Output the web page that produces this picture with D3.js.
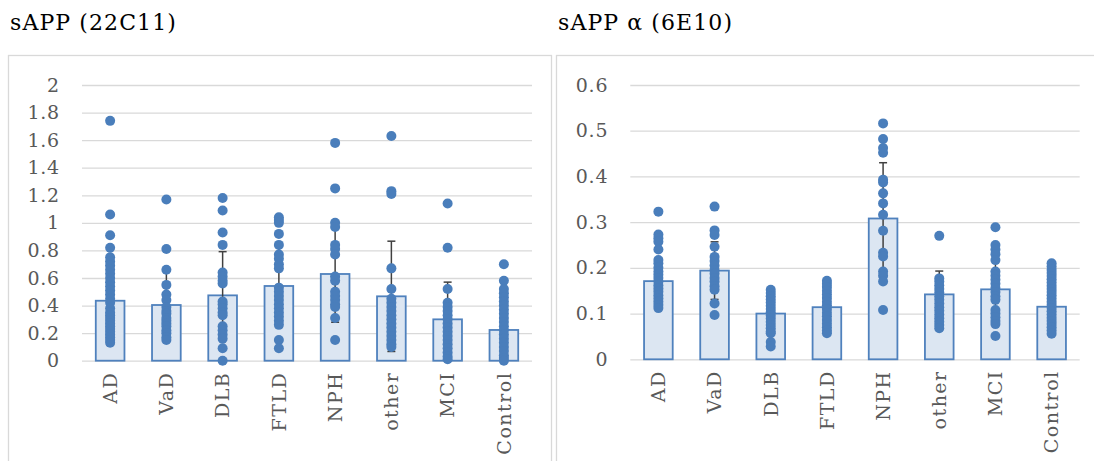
<!DOCTYPE html>
<html>
<head>
<meta charset="utf-8">
<script src="https://cdn.jsdelivr.net/npm/d3@7"></script>
<style>
    body { margin: 0; background: #fff; }
    svg { display: block; }
</style>
</head>
<body>
<svg id="chart"></svg>
<script>
const categories = ['AD', 'VaD', 'DLB', 'FTLD', 'NPH', 'other', 'MCI', 'Control'];

// sAPP (22C11)
const sapp_mean = [0.435, 0.404, 0.474, 0.542, 0.629, 0.467, 0.300, 0.223];
const sapp_sd   = [0.320, 0.250, 0.317, 0.297, 0.350, 0.400, 0.270, 0.150];
const sapp_points = [
    [1.74, 1.06, 0.91, 0.82, 0.75, 0.72, 0.69, 0.66, 0.63, 0.60, 0.57, 0.54, 0.51, 0.48, 0.45, 0.42, 0.38, 0.35, 0.33, 0.31, 0.29, 0.27, 0.25, 0.23, 0.21, 0.19, 0.17, 0.15, 0.13],
    [1.17, 0.81, 0.66, 0.55, 0.48, 0.44, 0.39, 0.36, 0.34, 0.31, 0.29, 0.27, 0.25, 0.22, 0.20, 0.17, 0.15],
    [1.18, 1.09, 0.93, 0.84, 0.64, 0.61, 0.58, 0.56, 0.43, 0.41, 0.38, 0.35, 0.33, 0.25, 0.22, 0.19, 0.16, 0.09, 0.00],
    [1.04, 1.02, 1.00, 0.92, 0.84, 0.77, 0.74, 0.70, 0.67, 0.53, 0.50, 0.47, 0.44, 0.41, 0.38, 0.35, 0.32, 0.29, 0.26, 0.15, 0.09],
    [1.58, 1.25, 1.00, 0.97, 0.84, 0.81, 0.77, 0.61, 0.58, 0.50, 0.47, 0.44, 0.41, 0.39, 0.31, 0.15],
    [1.63, 1.23, 1.21, 0.67, 0.52, 0.45, 0.42, 0.39, 0.36, 0.33, 0.30, 0.27, 0.24, 0.21, 0.18, 0.15, 0.12, 0.10],
    [1.14, 0.82, 0.52, 0.42, 0.39, 0.36, 0.33, 0.30, 0.27, 0.24, 0.21, 0.18, 0.15, 0.12, 0.09, 0.06, 0.03, 0.01],
    [0.70, 0.58, 0.52, 0.49, 0.46, 0.43, 0.40, 0.37, 0.34, 0.31, 0.28, 0.25, 0.22, 0.19, 0.16, 0.13, 0.10, 0.07, 0.04, 0.02, 0.00]
];
const sapp_ticks = [0, 0.2, 0.4, 0.6, 0.8, 1, 1.2, 1.4, 1.6, 1.8, 2];

// sAPP alpha (6E10)
const alpha_mean = [0.171, 0.194, 0.100, 0.114, 0.308, 0.142, 0.153, 0.115];
const alpha_sd   = [0.050, 0.063, 0.037, 0.030, 0.122, 0.051, 0.063, 0.040];
const alpha_points = [
    [0.323, 0.273, 0.265, 0.257, 0.240, 0.217, 0.210, 0.200, 0.192, 0.185, 0.178, 0.170, 0.162, 0.155, 0.148, 0.140, 0.133, 0.126, 0.119, 0.112],
    [0.334, 0.282, 0.272, 0.246, 0.224, 0.215, 0.205, 0.195, 0.187, 0.178, 0.170, 0.160, 0.152, 0.122, 0.097],
    [0.152, 0.145, 0.138, 0.131, 0.124, 0.117, 0.110, 0.103, 0.096, 0.089, 0.082, 0.075, 0.068, 0.061, 0.057, 0.038, 0.028],
    [0.172, 0.165, 0.158, 0.150, 0.142, 0.134, 0.126, 0.118, 0.110, 0.102, 0.094, 0.086, 0.078, 0.070, 0.063, 0.057],
    [0.516, 0.482, 0.462, 0.452, 0.393, 0.387, 0.363, 0.341, 0.316, 0.281, 0.233, 0.225, 0.192, 0.183, 0.170, 0.108],
    [0.270, 0.177, 0.170, 0.162, 0.154, 0.146, 0.138, 0.130, 0.122, 0.114, 0.106, 0.098, 0.090, 0.082, 0.075, 0.068],
    [0.289, 0.250, 0.240, 0.230, 0.217, 0.192, 0.183, 0.174, 0.165, 0.156, 0.147, 0.138, 0.130, 0.108, 0.100, 0.092, 0.084, 0.077, 0.051],
    [0.210, 0.203, 0.196, 0.189, 0.182, 0.175, 0.168, 0.161, 0.154, 0.147, 0.140, 0.133, 0.126, 0.119, 0.112, 0.105, 0.098, 0.091, 0.084, 0.077, 0.070, 0.063, 0.056]
];
const alpha_ticks = [0, 0.1, 0.2, 0.3, 0.4, 0.5, 0.6];

const FONT = '"DejaVu Serif", serif';

class DotBarChart{
    constructor(config){
        this.config = {
            svg: config.svg,
            x: config.x,           // left of frame
            title: config.title,
            frameWidth: config.frameWidth,
            plotLeft: config.plotLeft,
            plotRight: config.plotRight,
            plotTop: config.plotTop,
            plotBottom: config.plotBottom,
            ticks: config.ticks
        };
        this.mean = config.mean;
        this.sd = config.sd;
        this.points = config.points;
        this.init();
    }

    init(){
        const c = this.config;
        const g = c.svg.append('g');

        g.append('rect')
            .attr('x', c.x + 0.5)
            .attr('y', 55.5)
            .attr('width', c.frameWidth)
            .attr('height', 440)
            .attr('fill', 'none')
            .attr('stroke', '#d9d9d9')
            .attr('stroke-width', 1.3);

        g.append('text')
            .attr('x', c.x + 2)
            .attr('y', 30)
            .attr('font-family', FONT)
            .attr('font-size', 22)
            .attr('letter-spacing', 1.1)
            .attr('fill', '#000')
            .text(c.title);

        this.xscale = d3.scaleBand()
            .domain(categories)
            .range([c.plotLeft, c.plotRight])
            .paddingInner(0.49)
            .paddingOuter(0.245);

        this.yscale = d3.scaleLinear()
            .domain([0, d3.max(c.ticks)])
            .range([c.plotBottom, c.plotTop]);

        const yaxis = d3.axisLeft(this.yscale)
            .tickValues(c.ticks)
            .tickSize(-(c.plotRight - c.plotLeft))
            .tickPadding(22)
            .tickFormat(d => String(+d.toFixed(1)));

        const yg = g.append('g')
            .attr('transform', `translate(${c.plotLeft},0)`)
            .call(yaxis);
        yg.select('.domain').remove();
        yg.selectAll('line').attr('stroke', '#d9d9d9').attr('stroke-width', 1.3);
        yg.selectAll('text')
            .attr('font-family', FONT)
            .attr('font-size', 19)
            .attr('letter-spacing', 0.8)
            .attr('fill', '#595959');

        const xaxis = d3.axisBottom(this.xscale).tickSize(0);
        const xg = g.append('g')
            .attr('transform', `translate(0,${c.plotBottom})`)
            .call(xaxis);
        xg.select('.domain').remove();
        xg.selectAll('text')
            .attr('transform', 'rotate(-90)')
            .attr('x', -11)
            .attr('y', 0)
            .attr('dy', '0.36em')
            .attr('text-anchor', 'end')
            .attr('font-family', FONT)
            .attr('font-size', 19)
            .attr('letter-spacing', 1.5)
            .attr('fill', '#595959');

        this.chart = g;
        this.render();
    }

    render(){
        const xs = this.xscale, ys = this.yscale;
        const rows = categories.map((k, i) => ({key: k, mean: this.mean[i], sd: this.sd[i], pts: this.points[i]}));

        this.chart.append('g').selectAll('rect')
            .data(rows)
            .join('rect')
            .attr('x', d => xs(d.key))
            .attr('y', d => ys(d.mean))
            .attr('width', xs.bandwidth())
            .attr('height', d => ys(0) - ys(d.mean))
            .attr('fill', '#dce6f2')
            .attr('stroke', '#4f81bd')
            .attr('stroke-width', 1.8);

        const eb = this.chart.append('g')
            .attr('stroke', '#404040')
            .attr('stroke-width', 1.5);
        rows.forEach(d => {
            const cx = xs(d.key) + xs.bandwidth() / 2;
            const hi = ys(d.mean + d.sd), lo = ys(Math.max(0, d.mean - d.sd));
            eb.append('line').attr('x1', cx).attr('x2', cx).attr('y1', hi).attr('y2', lo);
            eb.append('line').attr('x1', cx - 4).attr('x2', cx + 4).attr('y1', hi).attr('y2', hi);
            eb.append('line').attr('x1', cx - 4).attr('x2', cx + 4).attr('y1', lo).attr('y2', lo);
        });

        const dots = rows.flatMap(d => d.pts.map(v => ({key: d.key, v: v})));
        this.chart.append('g').selectAll('circle')
            .data(dots)
            .join('circle')
            .attr('cx', d => xs(d.key) + xs.bandwidth() / 2)
            .attr('cy', d => ys(d.v))
            .attr('r', 5)
            .attr('fill', '#4a7ebb');
    }
}

const svg = d3.select('#chart')
    .attr('width', 1094)
    .attr('height', 461);

new DotBarChart({
    svg: svg, x: 8, title: 'sAPP (22C11)', frameWidth: 543,
    plotLeft: 82, plotRight: 532, plotTop: 85, plotBottom: 360.7,
    ticks: sapp_ticks, mean: sapp_mean, sd: sapp_sd, points: sapp_points
});

new DotBarChart({
    svg: svg, x: 556, title: 'sAPP α (6E10)', frameWidth: 600,
    plotLeft: 630.3, plotRight: 1079.7, plotTop: 85, plotBottom: 359.3,
    ticks: alpha_ticks, mean: alpha_mean, sd: alpha_sd, points: alpha_points
});
</script>
</body>
</html>
